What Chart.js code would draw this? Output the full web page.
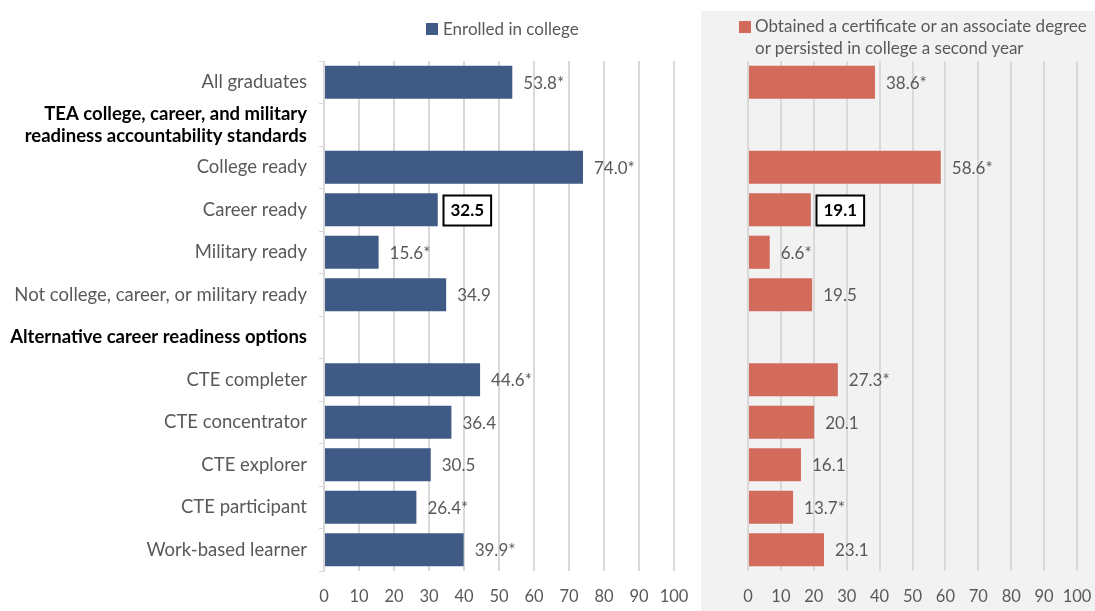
<!DOCTYPE html>
<html>
<head>
<meta charset="utf-8">
<script src="https://cdn.jsdelivr.net/npm/chart.js@4.4.1/dist/chart.umd.min.js"></script>
<style>
  html, body { margin: 0; padding: 0; background: #ffffff; }
  body { width: 1095px; height: 611px; position: relative; overflow: hidden; font-family: Lato, "Open Sans", sans-serif; }
  #panel { position: absolute; left: 701px; top: 11px; width: 394px; height: 600px; background: #f2f2f2; }
  #leftWrap { position: absolute; left: 0; top: 0; width: 700px; height: 611px; }
  #rightWrap { position: absolute; left: 701px; top: 0; width: 394px; height: 611px; }
  .legend { position: absolute; color: #595959; font-size: 17px; line-height: 22px; }
  .swatch { position: absolute; width: 12px; height: 12px; }
</style>
</head>
<body>
<div id="panel"></div>
<div id="leftWrap"><canvas id="leftChart" width="700" height="611"></canvas></div>
<div id="rightWrap"><canvas id="rightChart" width="394" height="611"></canvas></div>

<div class="swatch" style="left:426px; top:23px; background:#3f5a84;"></div>
<div class="legend" id="legendLeft" style="left:443px; top:18px;"></div>
<div class="swatch" style="left:739px; top:21px; background:#d26b5c;"></div>
<div class="legend" id="legendRight" style="left:755px; top:15px; width:340px;"></div>

<script>
// Row labels (arrays give two-line labels)
const categories = [
  'All graduates',
  ['TEA college, career, and military', 'readiness accountability standards'],
  'College ready',
  'Career ready',
  'Military ready',
  'Not college, career, or military ready',
  'Alternative career readiness options',
  'CTE completer',
  'CTE concentrator',
  'CTE explorer',
  'CTE participant',
  'Work-based learner'
];
// Section heading rows (no bars)
const headingRows = [1, 6];

const enrolledLabel = 'Enrolled in college';
const persistedLabel = ['Obtained a certificate or an associate degree', 'or persisted in college a second year'];

// Percent of graduates
const enrolled  = [53.8, null, 74.0, 32.5, 15.6, 34.9, null, 44.6, 36.4, 30.5, 26.4, 39.9];
const persisted = [38.6, null, 58.6, 19.1,  6.6, 19.5, null, 27.3, 20.1, 16.1, 13.7, 23.1];

// Statistically significant differences (marked with *)
const enrolledStar  = [true, false, true, false, true, false, false, true, false, false, true, true];
const persistedStar = [true, false, true, false, true, false, false, true, false, false, true, false];

// Reference group row, shown in a box
const referenceRow = 3;

const xTicks = [0, 10, 20, 30, 40, 50, 60, 70, 80, 90, 100];

document.getElementById('legendLeft').textContent = enrolledLabel;
document.getElementById('legendRight').innerHTML = persistedLabel.join('<br>');

const FONT = 'Lato, "Open Sans", sans-serif';
const GREY_TEXT = '#595959';
const GRID = '#d9d9d9';

// Draws the value text at the end of each bar
function valueLabels(stars) {
  return {
    id: 'valueLabels',
    afterDatasetsDraw(chart) {
      const ctx = chart.ctx;
      const meta = chart.getDatasetMeta(0);
      const data = chart.data.datasets[0].data;
      ctx.save();
      meta.data.forEach((bar, i) => {
        const v = data[i];
        if (v === null || v === undefined) return;
        const text = v.toFixed(1) + (stars[i] ? '*' : '');
        const x = bar.x;
        const y = bar.y;
        if (i === referenceRow) {
          ctx.font = 'bold 17px ' + FONT;
          const w = ctx.measureText(text).width + 14;
          const bx = Math.round(x + 5) + 0.5;
          const by = Math.round(y - 15) + 0.5;
          ctx.fillStyle = '#ffffff';
          ctx.fillRect(bx, by, w, 30);
          ctx.lineWidth = 2;
          ctx.strokeStyle = '#000000';
          ctx.strokeRect(bx, by, w, 30);
          ctx.fillStyle = '#000000';
          ctx.textAlign = 'center';
          ctx.textBaseline = 'middle';
          ctx.fillText(text, bx + w / 2, y + 1);
        } else {
          ctx.font = '17px ' + FONT;
          ctx.fillStyle = GREY_TEXT;
          ctx.textAlign = 'left';
          ctx.textBaseline = 'middle';
          ctx.fillText(text, x + 11, y + 1);
        }
      });
      ctx.restore();
    }
  };
}

function xAxis() {
  return {
    type: 'linear',
    min: 0,
    max: 100,
    afterBuildTicks(scale) { scale.ticks = xTicks.map(v => ({ value: v })); },
    afterFit(scale) {
      scale.height = 40;
      scale.paddingLeft = 0;
      scale.paddingRight = 0;
    },
    grid: { color: GRID, lineWidth: 2, drawTicks: false },
    border: { display: false },
    ticks: { color: GREY_TEXT, font: { family: FONT, size: 16.5 }, padding: 16, maxRotation: 0 }
  };
}

function barDataset(values, color) {
  return {
    data: values,
    backgroundColor: color,
    borderWidth: 0,
    barPercentage: 0.78,
    categoryPercentage: 1.0
  };
}

new Chart(document.getElementById('leftChart'), {
  type: 'bar',
  data: { labels: categories, datasets: [barDataset(enrolled, '#3f5a84')] },
  options: {
    indexAxis: 'y',
    responsive: false,
    animation: false,
    layout: { padding: { left: 0, right: 26, top: 61, bottom: 0 } },
    plugins: { legend: { display: false }, tooltip: { enabled: false } },
    scales: {
      x: xAxis(),
      y: {
        type: 'category',
        afterFit(scale) { scale.width = 324; },
        grid: { display: true, drawOnChartArea: false, drawTicks: true, tickLength: 5, color: GRID, offset: true },
        border: { display: true, color: GRID, width: 1 },
        ticks: {
          autoSkip: false,
          padding: 12,
          color: (c) => headingRows.includes(c.index) ? '#000000' : GREY_TEXT,
          font: (c) => headingRows.includes(c.index)
            ? { family: FONT, size: 18.5, weight: 'bold', lineHeight: 1.2 }
            : { family: FONT, size: 18.5, lineHeight: 1.2 }
        }
      }
    }
  },
  plugins: [valueLabels(enrolledStar)]
});

new Chart(document.getElementById('rightChart'), {
  type: 'bar',
  data: { labels: categories, datasets: [barDataset(persisted, '#d26b5c')] },
  options: {
    indexAxis: 'y',
    responsive: false,
    animation: false,
    layout: { padding: { left: 47, right: 18, top: 61, bottom: 0 } },
    plugins: { legend: { display: false }, tooltip: { enabled: false } },
    scales: {
      x: xAxis(),
      y: { type: 'category', display: false }
    }
  },
  plugins: [valueLabels(persistedStar)]
});
</script>
</body>
</html>
